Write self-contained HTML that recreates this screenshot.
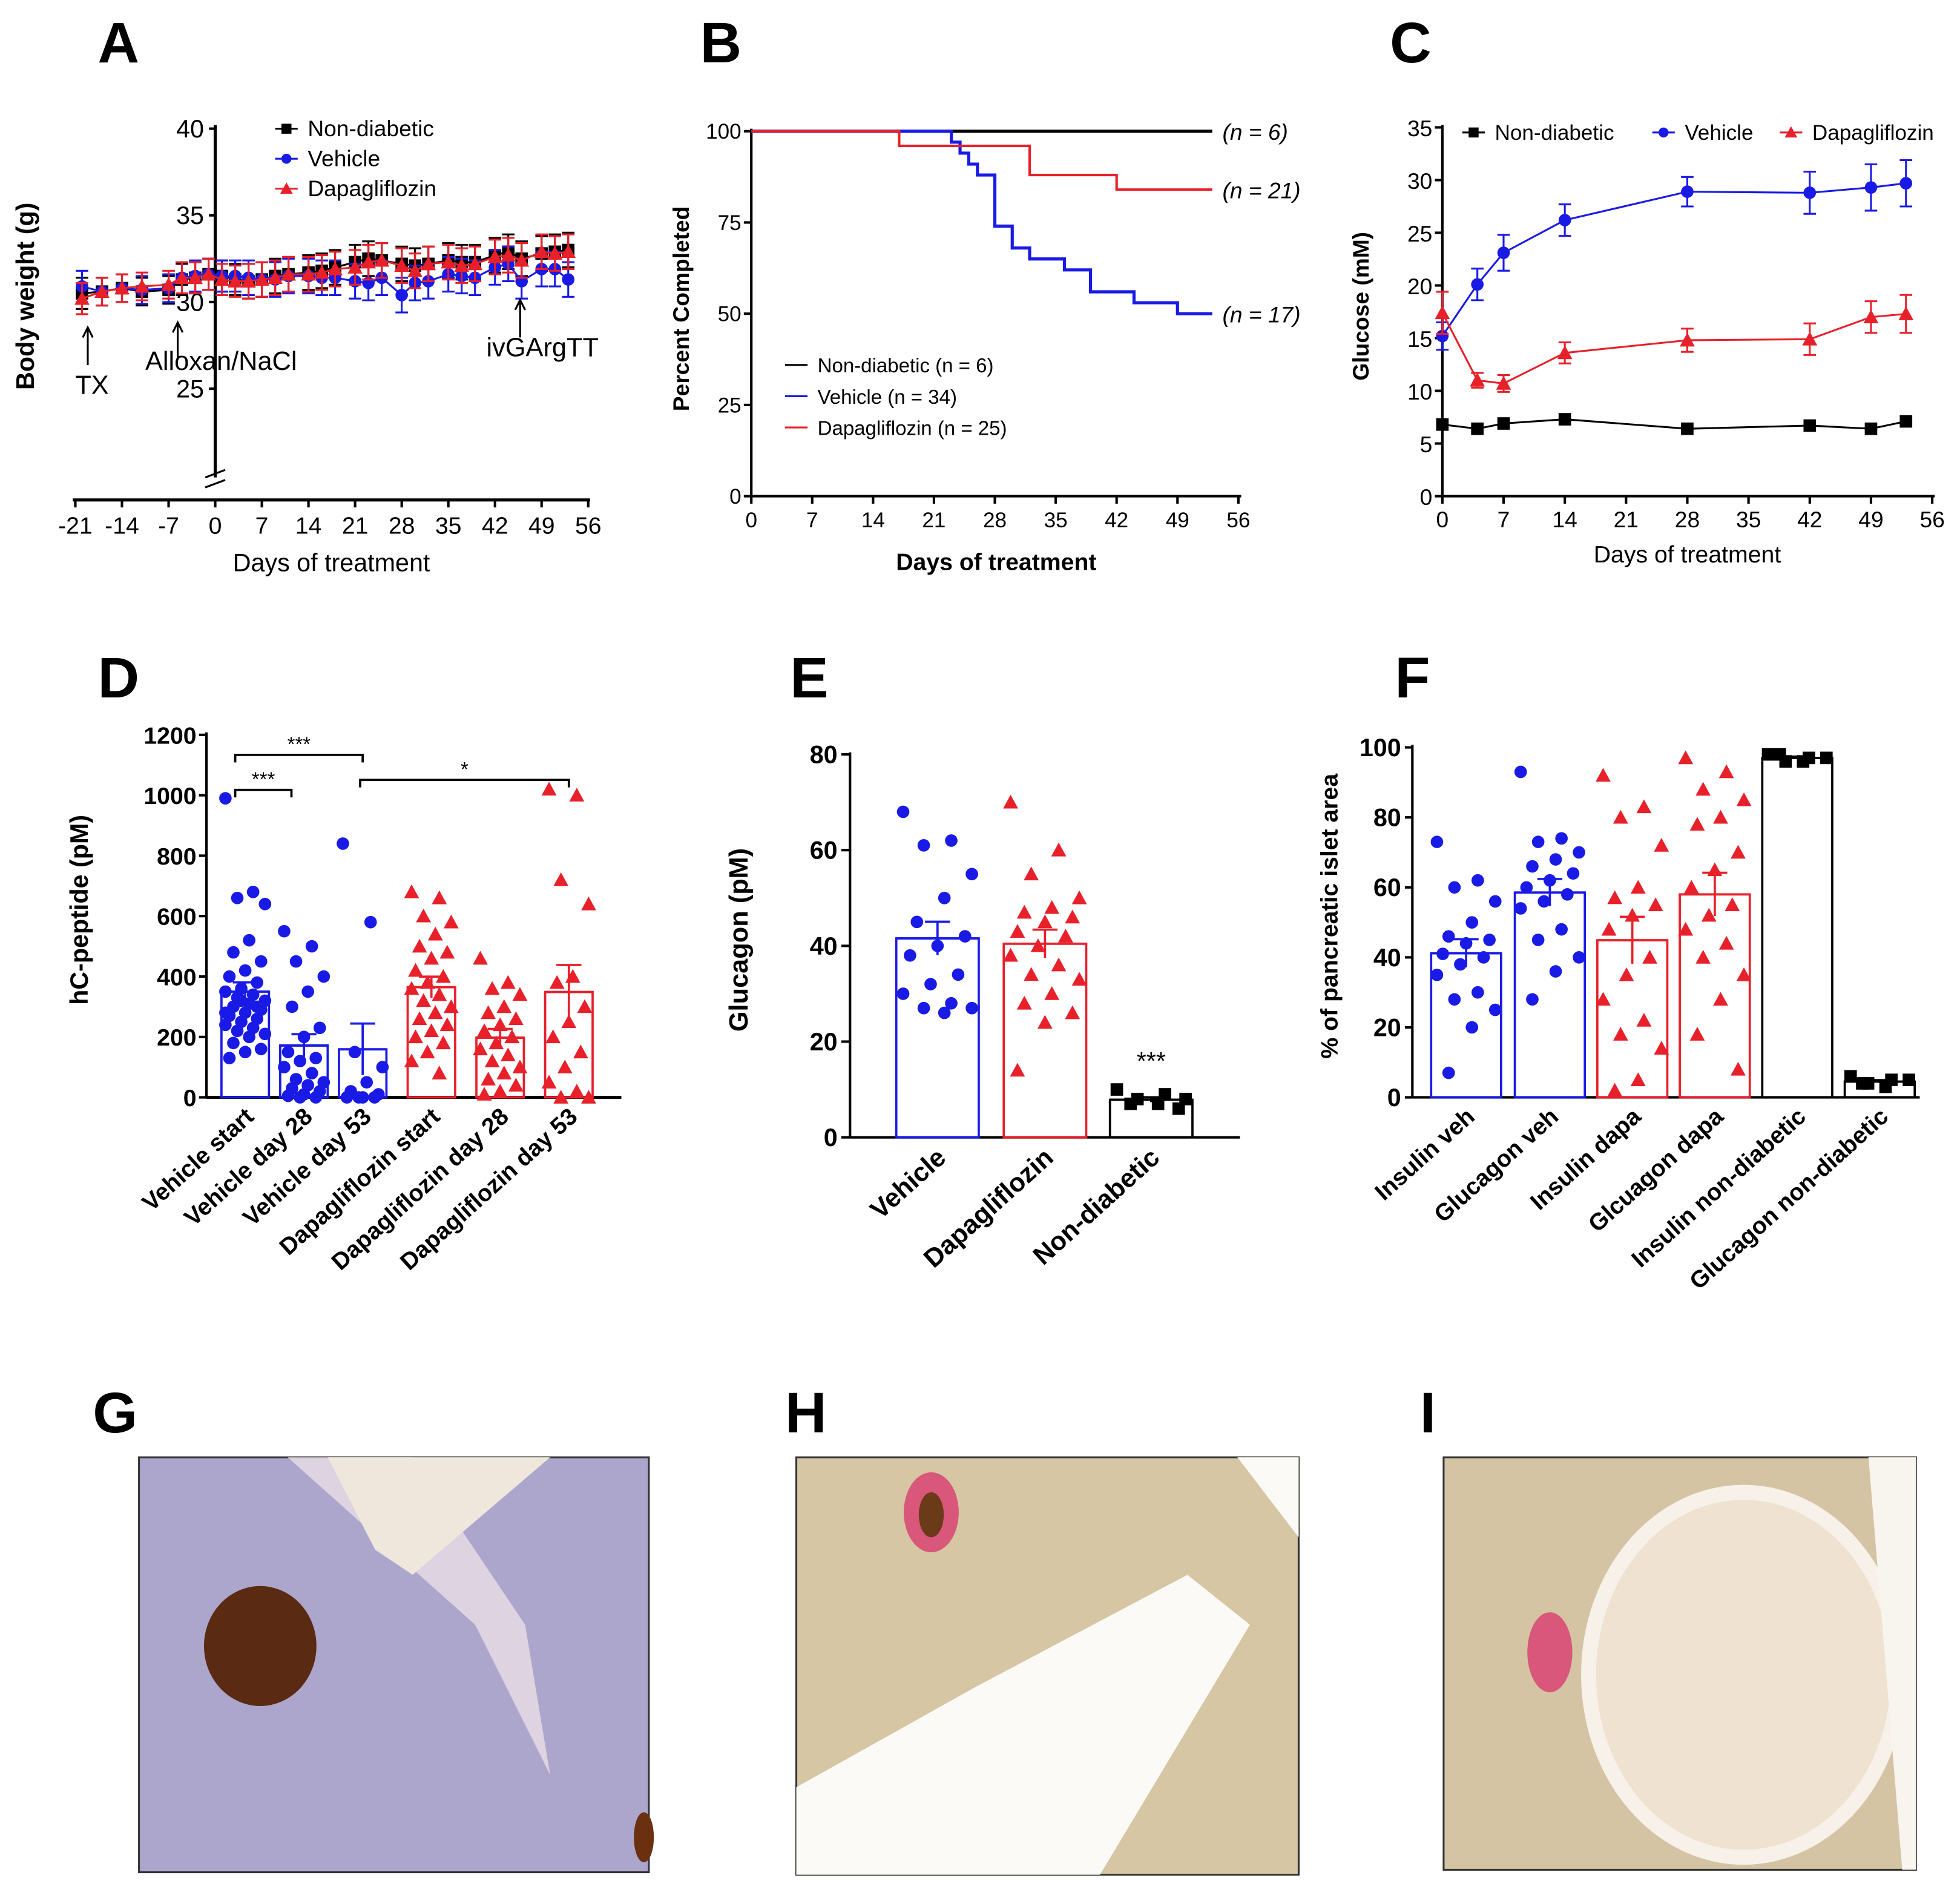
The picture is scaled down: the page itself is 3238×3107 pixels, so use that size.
<!DOCTYPE html>
<html><head><meta charset="utf-8"><style>
html,body{margin:0;padding:0;background:#fff}
svg{display:block;font-family:"Liberation Sans",Arial,sans-serif}
</style></head><body>
<svg id="fig" width="3238" height="3107" viewBox="0 0 1568 1505" xmlns="http://www.w3.org/2000/svg">
<rect x="0" y="0" width="1568" height="1505" fill="#fff"/>
<g font-weight="bold" font-size="46" fill="#000">
<text x="78" y="50">A</text>
<text x="560" y="50">B</text>
<text x="1112" y="50">C</text>
<text x="78" y="558">D</text>
<text x="632" y="558">E</text>
<text x="1116" y="558">F</text>
<text x="74" y="1146">G</text>
<text x="628" y="1146">H</text>
<text x="1136" y="1146">I</text>
</g>
<g>
<rect x="111" y="1166" width="408" height="332" fill="#ada6cc" stroke="#333" stroke-width="1.5"/>
<path d="M230 1166 L330 1166 L420 1300 L440 1420 L380 1300 Z" fill="#e8dfe6" opacity="0.8"/>
<path d="M262 1166 L440 1166 L330 1260 L300 1240 Z" fill="#efe6dc"/>
<ellipse cx="208" cy="1317" rx="45" ry="48" fill="#5a2a12"/>
<ellipse cx="515" cy="1470" rx="8" ry="20" fill="#6a3010"/>
</g>
<g>
<rect x="637" y="1166" width="402" height="334" fill="#d6c6a4" stroke="#333" stroke-width="1.5"/>
<path d="M637 1430 L780 1350 L950 1260 L1000 1300 L880 1500 L637 1500 Z" fill="#fbfaf6"/>
<path d="M990 1166 L1039 1166 L1039 1230 Z" fill="#fbfaf6"/>
<ellipse cx="745" cy="1210" rx="22" ry="32" fill="#d8577a"/>
<ellipse cx="745" cy="1212" rx="10" ry="18" fill="#6b3a18"/>
</g>
<g>
<rect x="1155" y="1166" width="378" height="330" fill="#d4c4a4" stroke="#333" stroke-width="1.5"/>
<ellipse cx="1395" cy="1340" rx="130" ry="152" fill="#f7f1ea"/>
<ellipse cx="1395" cy="1340" rx="118" ry="140" fill="#efe2d0"/>
<path d="M1495 1166 L1533 1166 L1533 1496 L1522 1496 Z" fill="#f8f4ee"/>
<ellipse cx="1240" cy="1322" rx="18" ry="32" fill="#d8577a"/>
</g>
</svg>
<script>
var NS='http://www.w3.org/2000/svg';
var svg=document.getElementById('fig');
function mk(tag,at,parent){var e=document.createElementNS(NS,tag);for(var k in at)e.setAttribute(k,at[k]);(parent||svg).appendChild(e);return e;}
function txt(s,at,parent){var e=mk('text',at,parent);e.textContent=s;return e;}

var aDays=[-20,-17,-14,-11,-7,-5,-3,-1,1,3,5,7,9,11,14,16,18,21,23,25,28,30,32,35,37,39,42,44,46,49,51,53];
var aNon=[30.5,30.6,30.8,30.6,30.7,31.3,31.4,31.6,31.5,31.3,31.2,31.3,31.5,31.6,31.7,31.8,32,32.3,32.5,32.4,32.2,32.1,32.2,32.4,32.3,32.3,32.7,32.9,32.5,32.8,32.9,33];
var aVeh=[30.9,30.6,30.8,30.7,30.8,31.4,31.5,31.6,31.5,31.5,31.4,31.3,31.3,31.5,31.5,31.4,31.4,31.2,31.1,31.4,30.4,31.1,31.2,31.6,31.5,31.4,32,32.2,31.2,31.9,31.9,31.3];
var aDap=[30.2,30.6,30.8,30.9,31,31.4,31.4,31.6,31.3,31.2,31.2,31.3,31.4,31.6,31.6,31.7,31.9,32,32.3,32.4,32.1,31.8,32.2,32.3,32.1,32.2,32.6,32.7,32.4,32.9,32.8,32.9];
var aErr=[0.9,0.8,0.8,0.8,0.8,0.9,0.9,0.9,0.9,0.9,1,1,1,1,1,1,1,1,1,1,1,1,1,1,1,1,1,1,1,1,1,1];
var aYTicks=[25,30,35,40];
var aXTicks=[-21,-14,-7,0,7,14,21,28,35,42,49,56];
function ax(d){return 172+d*5.33;}
function ay(v){return 311-(v-25)*13.87;}

var gA=mk('g',{});


var aYAxis=mk('line',{x1:172,y1:100,x2:172,y2:382,stroke:'#000','stroke-width':2.5},gA);


var brk=mk('path',{d:'M164 382 L180 376 M164 390 L180 384',stroke:'#000','stroke-width':1.5,fill:'none'},gA);


var aXAxis=mk('line',{x1:58,y1:400,x2:472,y2:400,stroke:'#000','stroke-width':2.5},gA);


aYTicks.forEach(function(t){
  mk('line',{x1:167,y1:ay(t),x2:172,y2:ay(t),stroke:'#000','stroke-width':2},gA);
  var l=txt(String(t),{x:163,y:ay(t)+7,'text-anchor':'end','font-size':20},gA);
  
  
});
aXTicks.forEach(function(t){
  mk('line',{x1:ax(t),y1:400,x2:ax(t),y2:406,stroke:'#000','stroke-width':2},gA);
  var l=txt(String(t),{x:ax(t),y:427,'text-anchor':'middle','font-size':19},gA);
  
  
});
var at1=txt('Days of treatment',{x:265,y:457,'text-anchor':'middle','font-size':20},gA);


var at2=txt('Body weight (g)',{x:0,y:0,transform:'translate(27,237) rotate(-90)','text-anchor':'middle','font-size':20,'font-weight':'bold'},gA);


function series(g,days,vals,errs,xf,yf,color,shape,name,lw){
  var pts=days.map(function(d,i){return xf(d)+','+yf(vals[i]);}).join(' ');
  var pl=mk('polyline',{points:pts,fill:'none',stroke:color,'stroke-width':lw||1.5},g);
  
  
  days.forEach(function(d,i){
    var x=xf(d),y=yf(vals[i]);
    if(errs){
      var eb=mk('path',{d:'M'+x+' '+yf(vals[i]+errs[i])+' V'+yf(vals[i]-errs[i])+' M'+(x-5)+' '+yf(vals[i]+errs[i])+' h10 M'+(x-5)+' '+yf(vals[i]-errs[i])+' h10',stroke:color,'stroke-width':1.5,fill:'none'},g);
      
      
    }
    var m=marker(g,x,y,color,shape,5);
    
    
  });
}
function marker(g,x,y,color,shape,r){
  if(shape==='s')return mk('rect',{x:x-r,y:y-r,width:2*r,height:2*r,fill:color},g);
  if(shape==='c')return mk('circle',{cx:x,cy:y,r:r,fill:color},g);
  return mk('path',{d:'M'+x+' '+(y-r-1)+' L'+(x+r+1)+' '+(y+r)+' L'+(x-r-1)+' '+(y+r)+' Z',fill:color},g);
}
series(gA,aDays,aNon,aErr,ax,ay,'#000','s','a-non-diabetic');
series(gA,aDays,aVeh,aErr,ax,ay,'#1a1ae6','c','a-vehicle');
series(gA,aDays,aDap,aErr,ax,ay,'#e8202a','t','a-dapagliflozin');
[['TX',70,262,60,315],['Alloxan/NaCl',142,258,116,296],['ivGArgTT',416,240,389,285]].forEach(function(a){
  var ar=mk('path',{d:'M'+a[1]+' '+(a[2]+30)+' V'+a[2]+' M'+(a[1]-4)+' '+(a[2]+8)+' L'+a[1]+' '+a[2]+' L'+(a[1]+4)+' '+(a[2]+8),stroke:'#000','stroke-width':1.5,fill:'none'},gA);
  
  
  var t=txt(a[0],{x:a[3],y:a[4],'font-size':21},gA);
  
  
});
function legend(g,x,y,dy,items,fs,horiz){
  items.forEach(function(it,i){
    var xx=horiz?it[3]:x, yy=horiz?y:y+i*dy;
    mk('line',{x1:xx,y1:yy,x2:xx+18,y2:yy,stroke:it[1],'stroke-width':1.5},g);
    if(it[2])marker(g,xx+9,yy,it[1],it[2],4);
    var t=txt(it[0],{x:xx+26,y:yy+6,'font-size':fs},g);
    
    
  });
}
legend(gA,220,103,24,[['Non-diabetic','#000','s'],['Vehicle','#1a1ae6','c'],['Dapagliflozin','#e8202a','t']],18);

var bNonX=[0,53];var bNonY=[100,100];
var bVehX=[0,23,24,25,26,28,30,32,36,39,44,49,53];
var bVehY=[100,97,94,91,88,74,68,65,62,56,53,50,50];
var bDapX=[0,17,32,42,53];
var bDapY=[100,96,88,84,84];
var bYTicks=[0,25,50,75,100];
var bXTicks=[0,7,14,21,28,35,42,49,56];
function bx(d){return 601+d*6.96;}
function by(v){return 397-v*2.92;}
var gB=mk('g',{});


mk('line',{x1:601,y1:103,x2:601,y2:397,stroke:'#000','stroke-width':2},gB);
mk('line',{x1:601,y1:397,x2:993,y2:397,stroke:'#000','stroke-width':2},gB);
bYTicks.forEach(function(t){
  mk('line',{x1:595,y1:by(t),x2:601,y2:by(t),stroke:'#000','stroke-width':2},gB);
  var l=txt(String(t),{x:593,y:by(t)+6,'text-anchor':'end','font-size':17},gB);
  
  
});
bXTicks.forEach(function(t){
  mk('line',{x1:bx(t),y1:397,x2:bx(t),y2:403,stroke:'#000','stroke-width':2},gB);
  var l=txt(String(t),{x:bx(t),y:422,'text-anchor':'middle','font-size':17},gB);
  
  
});
var bt1=txt('Days of treatment',{x:797,y:456,'text-anchor':'middle','font-size':19,'font-weight':'bold'},gB);


var bt2=txt('Percent Completed',{x:0,y:0,transform:'translate(551,247) rotate(-90)','text-anchor':'middle','font-size':18,'font-weight':'bold'},gB);


function step(xs,ys){var d='M'+bx(xs[0])+' '+by(ys[0]);for(var i=1;i<xs.length;i++){d+=' H'+bx(xs[i])+' V'+by(ys[i]);}return d;}
var sb1=mk('path',{d:step(bNonX,bNonY),stroke:'#000','stroke-width':2.5,fill:'none'},gB);


var sb2=mk('path',{d:step(bVehX,bVehY),stroke:'#1a1ae6','stroke-width':2.5,fill:'none'},gB);


var sb3=mk('path',{d:step(bDapX,bDapY),stroke:'#e8202a','stroke-width':2,fill:'none'},gB);


[['(n = 6)',100],['(n = 21)',84],['(n = 17)',50]].forEach(function(a){
  var t=txt(a[0],{x:978,y:by(a[1])+7,'font-size':18,'font-style':'italic'},gB);
  
  
});
legend(gB,628,292,25,[['Non-diabetic (n = 6)','#000',null],['Vehicle (n = 34)','#1a1ae6',null],['Dapagliflozin (n = 25)','#e8202a',null]],16);

var cDays=[0,4,7,14,28,42,49,53];
var cNon=[6.8,6.4,6.9,7.3,6.4,6.7,6.4,7.1];
var cVeh=[15.2,20.1,23.1,26.2,28.9,28.8,29.3,29.7];
var cVehE=[1.3,1.5,1.7,1.5,1.4,2,2.2,2.2];
var cDap=[17.4,11,10.7,13.6,14.8,14.9,17,17.3];
var cDapE=[2,0.7,0.8,1,1.1,1.5,1.5,1.8];
var cYTicks=[0,5,10,15,20,25,30,35];
var cXTicks=[0,7,14,21,28,35,42,49,56];
function cx(d){return 1154+d*7.0;}
function cy(v){return 397-v*8.43;}
var gC=mk('g',{});


mk('line',{x1:1154,y1:100,x2:1154,y2:397,stroke:'#000','stroke-width':2},gC);
mk('line',{x1:1154,y1:397,x2:1548,y2:397,stroke:'#000','stroke-width':2},gC);
cYTicks.forEach(function(t){
  mk('line',{x1:1148,y1:cy(t),x2:1154,y2:cy(t),stroke:'#000','stroke-width':2},gC);
  var l=txt(String(t),{x:1146,y:cy(t)+7,'text-anchor':'end','font-size':18},gC);
  
  
});
cXTicks.forEach(function(t){
  mk('line',{x1:cx(t),y1:397,x2:cx(t),y2:403,stroke:'#000','stroke-width':2},gC);
  var l=txt(String(t),{x:cx(t),y:422,'text-anchor':'middle','font-size':18},gC);
  
  
});
var ct1=txt('Days of treatment',{x:1350,y:450,'text-anchor':'middle','font-size':19},gC);


var ct2=txt('Glucose (mM)',{x:0,y:0,transform:'translate(1095,245) rotate(-90)','text-anchor':'middle','font-size':18,'font-weight':'bold'},gC);


series(gC,cDays,cNon,null,cx,cy,'#000','s','c-non-diabetic');
series(gC,cDays,cVeh,cVehE,cx,cy,'#1a1ae6','c','c-vehicle');
series(gC,cDays,cDap,cDapE,cx,cy,'#e8202a','t','c-dapagliflozin');
legend(gC,0,106,0,[['Non-diabetic','#000','s',1170],['Vehicle','#1a1ae6','c',1322],['Dapagliflozin','#e8202a','t',1424]],17,true);

function scatterBar(g,cxp,w,vals,yf,color,shape,name,mean,sem){
  var b=mk('rect',{x:cxp-w/2,y:yf(mean),width:w,height:yf(0)-yf(mean),fill:'none',stroke:color,'stroke-width':1.8},g);
  
  
  vals.forEach(function(v,i){
    var off=((i*7)%11-5)*(w/12);
    var m=marker(g,cxp+off,yf(v),color,shape,5);
    
    
  });
  var e=mk('path',{d:'M'+cxp+' '+yf(mean+sem)+' V'+yf(mean-sem)+' M'+(cxp-10)+' '+yf(mean+sem)+' h20 M'+(cxp-w/2)+' '+yf(mean)+' h'+w,stroke:color,'stroke-width':1.8,fill:'none'},g);
  
  
}
function mean(a){return a.reduce(function(s,v){return s+v;},0)/a.length;}
function sem(a){var m=mean(a);var v=a.reduce(function(s,x){return s+(x-m)*(x-m);},0)/(a.length-1);return Math.sqrt(v/a.length);}
function rotLabels(g,cats,xs,y,fs,name){
  cats.forEach(function(c,i){
    var t=txt(c,{x:0,y:0,transform:'translate('+(xs[i]+8)+','+y+') rotate(-42)','text-anchor':'end','font-size':fs,'font-weight':'bold'},g);
    
    
  });
}

var dCats=['Vehicle start','Vehicle day 28','Vehicle day 53','Dapagliflozin start','Dapagliflozin day 28','Dapagliflozin day 53'];
var dVehStart=[990,680,660,640,520,480,450,420,400,380,360,350,340,330,320,310,300,290,280,270,260,250,240,230,220,210,200,180,160,150,130,300,320,280];
var dVeh28=[550,500,450,400,350,300,230,200,150,130,120,100,80,60,50,40,30,20,10,5,0,0];
var dVeh53=[840,580,150,100,50,20,10,0,0,0,0];
var dDapStart=[680,660,600,580,540,500,480,460,420,400,380,360,340,320,300,280,260,240,220,200,180,150,120,80];
var dDap28=[460,380,360,340,300,280,260,240,220,200,180,160,140,120,100,80,60,40,20,10];
var dDap53=[1020,1000,720,640,400,380,300,250,200,150,100,50,20,0,0];
var dYTicks=[0,200,400,600,800,1000,1200];
function dy(v){return 878-v*0.2417;}
var dX=[196,243,290,345,400,455];
var gD=mk('g',{});


mk('line',{x1:165,y1:586,x2:165,y2:878,stroke:'#000','stroke-width':2},gD);
mk('line',{x1:165,y1:878,x2:497,y2:878,stroke:'#000','stroke-width':2.5},gD);
dYTicks.forEach(function(t){
  mk('line',{x1:159,y1:dy(t),x2:165,y2:dy(t),stroke:'#000','stroke-width':2},gD);
  var l=txt(String(t),{x:157,y:dy(t)+7,'text-anchor':'end','font-size':19,'font-weight':'bold'},gD);
  
  
});
var dt2=txt('hC-peptide (pM)',{x:0,y:0,transform:'translate(70,728) rotate(-90)','text-anchor':'middle','font-size':20,'font-weight':'bold'},gD);


[[dVehStart,'#1a1ae6','c'],[dVeh28,'#1a1ae6','c'],[dVeh53,'#1a1ae6','c'],[dDapStart,'#e8202a','t'],[dDap28,'#e8202a','t'],[dDap53,'#e8202a','t']].forEach(function(s,i){
  scatterBar(gD,dX[i],38,s[0],dy,s[1],s[2],'d-group-'+i,mean(s[0]),sem(s[0]));
});
rotLabels(gD,dCats,dX,895,19,'d-x-tick-label');
[[188,290,604,'***'],[188,233,632,'***'],[288,455,624,'*']].forEach(function(b){
  var p=mk('path',{d:'M'+b[0]+' '+(b[2]+6)+' V'+b[2]+' H'+b[1]+' V'+(b[2]+6),stroke:'#000','stroke-width':1.8,fill:'none'},gD);
  
  
  var t=txt(b[3],{x:(b[0]+b[1])/2,y:b[2]-3,'text-anchor':'middle','font-size':16},gD);
  
  
});

var eCats=['Vehicle','Dapagliflozin','Non-diabetic'];
var eVeh=[68,62,61,55,50,45,42,40,38,34,32,30,28,27,27,26];
var eDap=[70,60,55,50,48,47,46,45,43,42,40,38,36,34,33,30,28,26,24,14];
var eNon=[10,9,8,8,7,7,6];
var eYTicks=[0,20,40,60,80];
function ey(v){return 910-v*3.83;}
var eX=[750,836,921];
var gE=mk('g',{});


mk('line',{x1:680,y1:602,x2:680,y2:910,stroke:'#000','stroke-width':2},gE);
mk('line',{x1:680,y1:910,x2:992,y2:910,stroke:'#000','stroke-width':2},gE);
eYTicks.forEach(function(t){
  mk('line',{x1:673,y1:ey(t),x2:680,y2:ey(t),stroke:'#000','stroke-width':2},gE);
  var l=txt(String(t),{x:670,y:ey(t)+7,'text-anchor':'end','font-size':20,'font-weight':'bold'},gE);
  
  
});
var et2=txt('Glucagon (pM)',{x:0,y:0,transform:'translate(598,752) rotate(-90)','text-anchor':'middle','font-size':21,'font-weight':'bold'},gE);


[[eVeh,'#1a1ae6','c'],[eDap,'#e8202a','t'],[eNon,'#000','s']].forEach(function(s,i){
  scatterBar(gE,eX[i],66,s[0],ey,s[1],s[2],'e-group-'+i,mean(s[0]),sem(s[0]));
});
var es=txt('***',{x:921,y:856,'text-anchor':'middle','font-size':20},gE);


rotLabels(gE,eCats,eX,928,21,'e-x-tick-label');

var fCats=['Insulin veh','Glucagon veh','Insulin dapa','Glcuagon dapa','Insulin non-diabetic','Glucagon non-diabetic'];
var fInsVeh=[73,62,60,56,50,46,45,44,41,40,38,35,30,28,25,20,7];
var fGluVeh=[93,74,73,70,68,66,64,62,60,58,56,54,48,45,40,36,28];
var fInsDap=[92,83,80,72,60,57,55,52,48,40,35,28,22,18,14,5,2];
var fGluDap=[97,93,88,85,80,78,70,65,60,55,52,48,44,40,35,28,18,8];
var fInsNon=[98,97,96,97,96,98];
var fGluNon=[6,5,4,5,3,4];
var fYTicks=[0,20,40,60,80,100];
function fy(v){return 878-v*2.8;}
var fX=[1173,1240,1306,1372,1438,1504];
var gF=mk('g',{});


mk('line',{x1:1130,y1:596,x2:1130,y2:878,stroke:'#000','stroke-width':2},gF);
mk('line',{x1:1130,y1:878,x2:1536,y2:878,stroke:'#000','stroke-width':2},gF);
fYTicks.forEach(function(t){
  mk('line',{x1:1124,y1:fy(t),x2:1130,y2:fy(t),stroke:'#000','stroke-width':2},gF);
  var l=txt(String(t),{x:1121,y:fy(t)+7,'text-anchor':'end','font-size':20,'font-weight':'bold'},gF);
  
  
});
var ft2=txt('% of pancreatic islet area',{x:0,y:0,transform:'translate(1070,733) rotate(-90)','text-anchor':'middle','font-size':19,'font-weight':'bold'},gF);


[[fInsVeh,'#1a1ae6','c'],[fGluVeh,'#1a1ae6','c'],[fInsDap,'#e8202a','t'],[fGluDap,'#e8202a','t'],[fInsNon,'#000','s'],[fGluNon,'#000','s']].forEach(function(s,i){
  scatterBar(gF,fX[i],56,s[0],fy,s[1],s[2],'f-group-'+i,mean(s[0]),sem(s[0]));
});
rotLabels(gF,fCats,fX,895,19,'f-x-tick-label');
</script>
</body></html>
